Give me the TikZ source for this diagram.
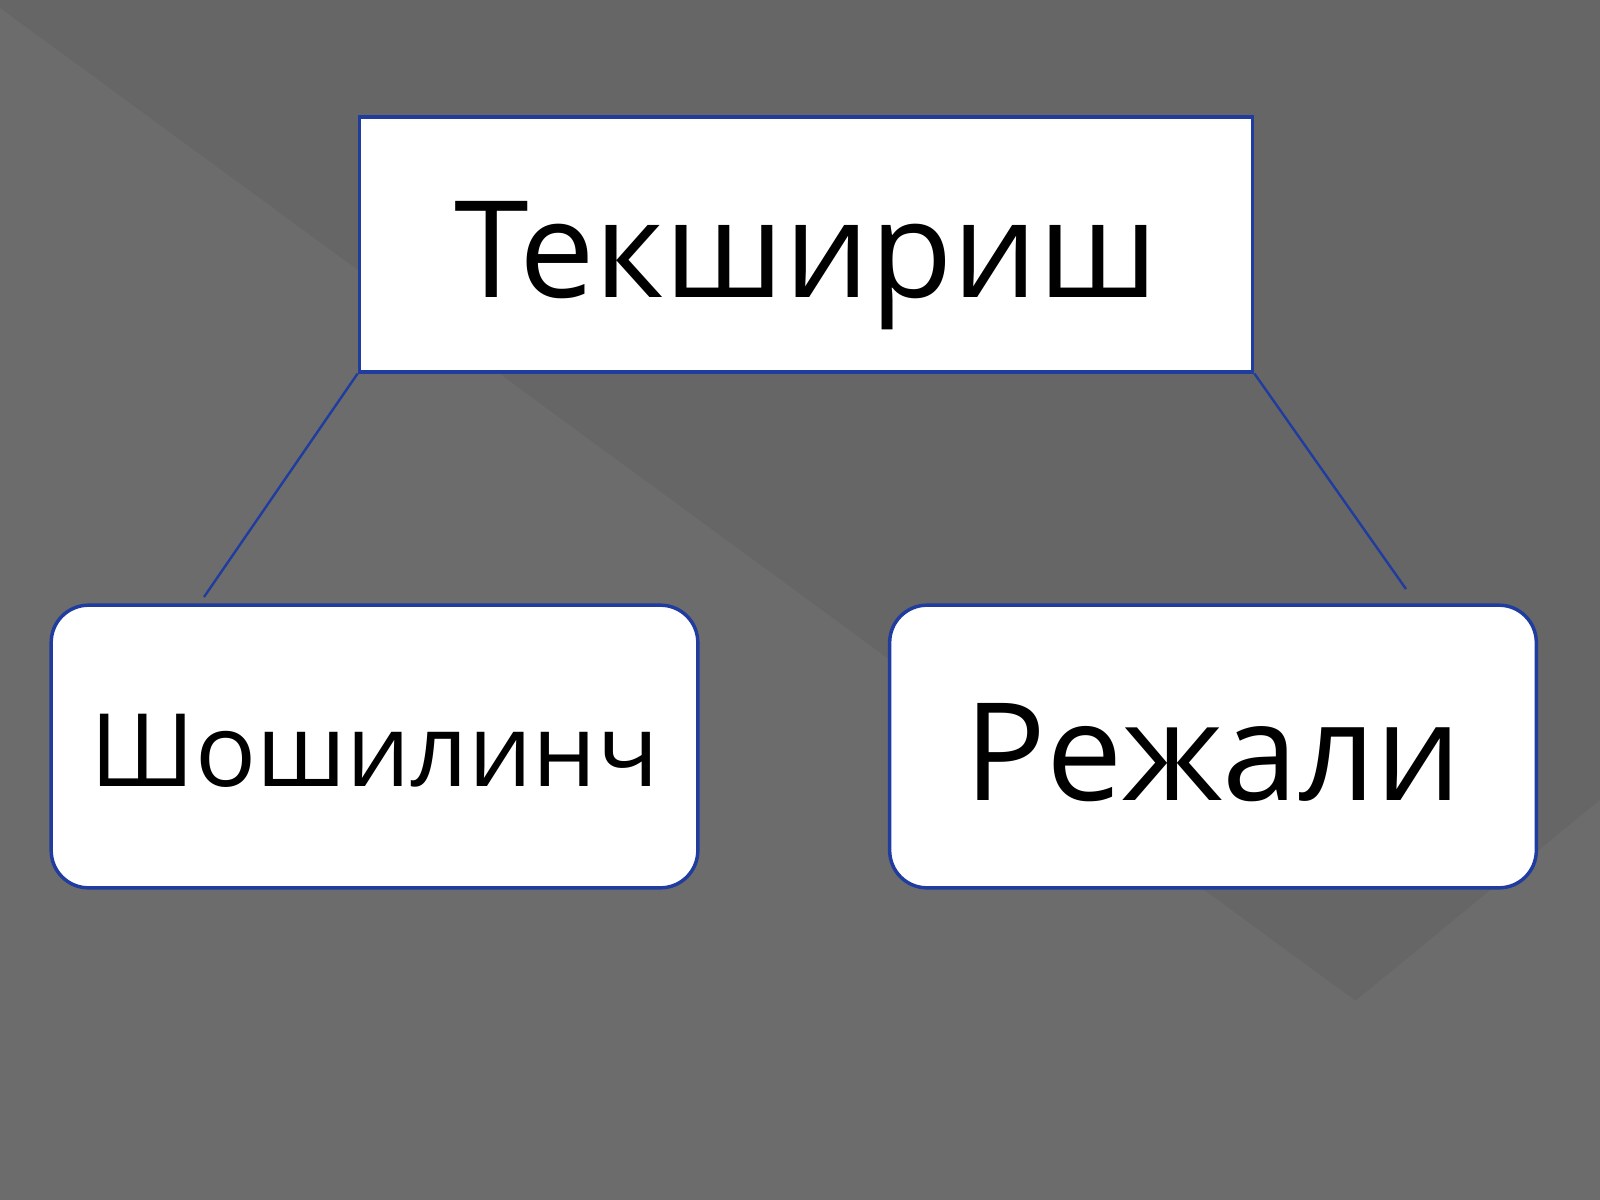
\documentclass[tikz,border=0pt]{standalone}
\usepackage{fontspec}
\setmainfont{Open Sans}
\definecolor{slideblue}{HTML}{1F3C9E}
\definecolor{bgdark}{HTML}{666666}
\definecolor{bglight}{HTML}{6C6C6C}
\begin{document}
\begin{tikzpicture}[x=0.75pt,y=0.75pt,yscale=-1,
	headbox/.style={draw=slideblue,line width=2.6pt,fill=white,inner sep=0pt,minimum width=670pt,minimum height=191pt,font=\fontsize{101}{110}\selectfont,text height=80pt,text depth=0pt},
	subbox/.style={draw=slideblue,line width=2.6pt,fill=white,rounded corners=28pt,inner sep=0pt,minimum width=485pt,minimum height=212pt,text depth=0pt},
	link/.style={draw=slideblue,line width=1.8pt}]
	\useasboundingbox (0,0) rectangle (1600,1200);
	
	%Shape: Background
	\fill [bgdark] (0,0) rectangle (1600,1200);
	\fill [bglight] (0,8) -- (1600,1180) -- (1600,1200) -- (0,1200) -- cycle;
	\fill [bglight] (1113,1200) -- (1600,800) -- (1600,1200) -- cycle;
	
	%Shape: Rectangle
	\node [headbox] (check) at (806,244.5) {Текшириш};
	%Shape: Rounded Rectangle
	\node [subbox,font=\fontsize{76}{80}\selectfont,text height=60pt] (quick) at (374.5,746.5) {Шошилинч};
	%Shape: Rounded Rectangle
	\node [subbox,font=\fontsize{102}{110}\selectfont,text height=81pt] (plan) at (1213,746.5) {Режали};
	
	%Straight Lines
	\coordinate (quicktop) at (204,597);
	\coordinate (plantop) at (1406,589);
	\draw [link] (check.south west) -- (quicktop);
	\draw [link] (check.south east) -- (plantop);
	
\end{tikzpicture}
\end{document}
